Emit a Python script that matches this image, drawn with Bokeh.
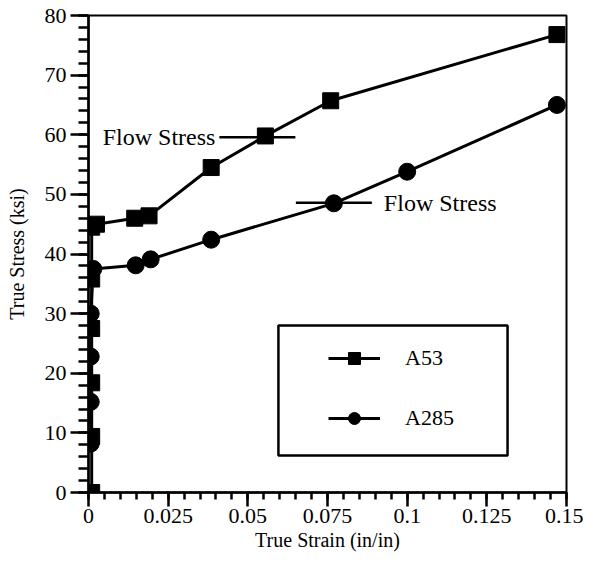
from bokeh.plotting import figure
from bokeh.models import Range1d, Legend, LegendItem, Label, BoxAnnotation, FixedTicker
from bokeh.embed import file_html
from bokeh.resources import INLINE

# ---- data ----
a53_strain = [0.001, 0.001, 0.001, 0.001, 0.001, 0.001, 0.0025, 0.0145, 0.019, 0.0385, 0.0555, 0.076, 0.147]
a53_stress = [0, 9.4, 18.4, 27.5, 35.8, 44.5, 45.0, 46.0, 46.4, 54.5, 59.8, 65.7, 76.8]

a285_strain = [0.0007, 0.0007, 0.0007, 0.0007, 0.0015, 0.0148, 0.0195, 0.0385, 0.077, 0.100, 0.147]
a285_stress = [8.2, 15.2, 22.8, 30.0, 37.5, 38.1, 39.1, 42.4, 48.5, 53.8, 65.0]

flow_stress_strain = [0.053, 0.077]
flow_stress_value = [59.6, 48.6]

x_ticks = [0, 0.025, 0.05, 0.075, 0.1, 0.125, 0.15]
x_tick_labels = ["0", "0.025", "0.05", "0.075", "0.1", "0.125", "0.15"]
y_ticks = [0, 10, 20, 30, 40, 50, 60, 70, 80]

FONT = "Liberation Serif"

p = figure(width=583, height=556, output_backend="svg", toolbar_location=None,
           x_range=Range1d(0, 0.15), y_range=Range1d(0, 80),
           min_border_left=88, min_border_right=17, min_border_top=15, min_border_bottom=64)
p.background_fill_color = "white"
p.border_fill_color = "white"
p.outline_line_color = "black"
p.outline_line_width = 2
p.xgrid.visible = False
p.ygrid.visible = False

# axes
p.xaxis.ticker = FixedTicker(ticks=x_ticks,
                             minor_ticks=[i * 0.005 for i in range(31)])
p.xaxis.major_label_overrides = {t: l for t, l in zip(x_ticks, x_tick_labels)}
p.yaxis.ticker = FixedTicker(ticks=y_ticks, minor_ticks=list(range(0, 81, 2)))
for ax in (p.xaxis[0], p.yaxis[0]):
    ax.axis_line_color = "black"
    ax.axis_line_width = 2.5
    ax.major_tick_line_color = "black"
    ax.minor_tick_line_color = "black"
    ax.major_tick_line_width = 2.5
    ax.minor_tick_line_width = 2.5
    ax.major_tick_in = 0
    ax.minor_tick_in = 0
    ax.major_label_text_font = FONT
    ax.major_label_text_font_size = "22px"
    ax.major_label_text_color = "black"
    ax.axis_label_text_font = FONT
    ax.axis_label_text_font_size = "20px"
    ax.axis_label_text_font_style = "normal"
    ax.axis_label_text_color = "black"

p.xaxis.major_tick_out = 14
p.xaxis.minor_tick_out = 7
p.xaxis.major_label_standoff = 2
p.xaxis.axis_label = "True Strain (in/in)"
p.xaxis.axis_label_standoff = 3

p.yaxis.major_tick_out = 18
p.yaxis.minor_tick_out = 10
p.yaxis.major_label_standoff = 4
p.yaxis.axis_label = "True Stress (ksi)"
p.yaxis.axis_label_standoff = 14

# series
l1 = p.line(a53_strain, a53_stress, line_color="black", line_width=3)
s1 = p.scatter(a53_strain, a53_stress, marker="square", size=16,
               fill_color="black", line_color="black")
l2 = p.line(a285_strain, a285_stress, line_color="black", line_width=3)
s2 = p.scatter(a285_strain, a285_stress, marker="circle", size=17,
               fill_color="black", line_color="black")

# flow stress pointers
p.scatter(flow_stress_strain, flow_stress_value, marker="dash", size=76,
          line_color="black", line_width=2.5)
p.add_layout(Label(x=flow_stress_strain[0], y=flow_stress_value[0], x_offset=-42,
                   text="Flow Stress", text_align="right", text_baseline="middle",
                   text_font=FONT, text_font_size="24px", text_color="black"))
p.add_layout(Label(x=flow_stress_strain[1], y=flow_stress_value[1], x_offset=50,
                   text="Flow Stress", text_align="left", text_baseline="middle",
                   text_font=FONT, text_font_size="24px", text_color="black"))

# legend frame
p.add_layout(BoxAnnotation(left=0.0596, right=0.1315, bottom=6.2, top=28.0,
                           fill_alpha=0, line_color="black", line_alpha=1,
                           line_width=2.5))

legend = Legend(items=[LegendItem(label="A53", renderers=[l1, s1]),
                       LegendItem(label="A285", renderers=[l2, s2])],
                location=(240, 59), padding=0, margin=0, spacing=30,
                glyph_width=52, glyph_height=30, label_height=30,
                label_standoff=25, border_line_alpha=0, background_fill_alpha=0,
                label_text_font=FONT, label_text_font_size="22px",
                label_text_color="black")
p.add_layout(legend, "center")

open("out.html", "w").write(file_html(p, INLINE))
